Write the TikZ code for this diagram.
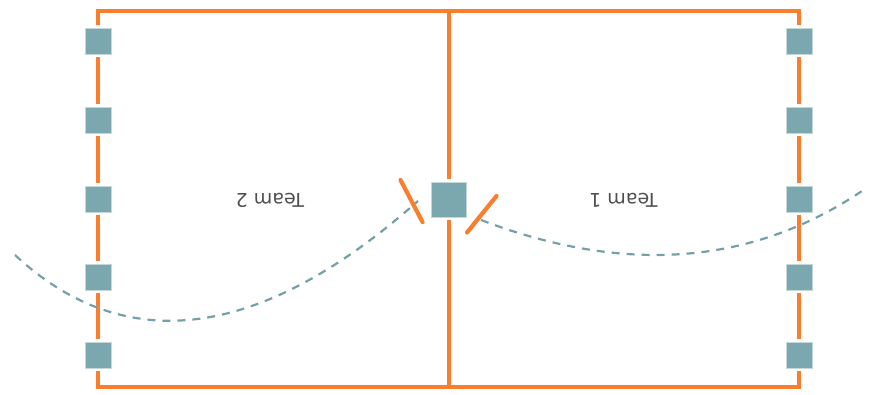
\documentclass[tikz,border=0pt]{standalone}
\usepackage{fontspec}
\setmainfont{DejaVu Sans}
\usetikzlibrary{positioning,calc}
\definecolor{pitchorange}{RGB}{250,126,46}
\definecolor{playerteal}{RGB}{123,167,175}
\definecolor{pathteal}{RGB}{118,160,168}
\definecolor{labelgray}{RGB}{80,80,80}

\begin{document}
\begin{tikzpicture}[
            x=1pt, y=-1pt,
            player/.style={
                draw=playerteal!45,
                line width=0.6pt,
                fill=playerteal,
                minimum size=26pt,
                inner sep=0pt,
                outer sep=3pt
            },
            keeper/.style={
                player,
                minimum size=35pt
            },
            pitchline/.style={
                draw=pitchorange,
                line width=4.2pt
            },
            blocker/.style={
                draw=pitchorange,
                line width=4.2pt,
                line cap=round
            },
            kick/.style={
                draw=pathteal,
                line width=2.2pt,
                dash pattern=on 8pt off 7pt
            },
            teamlabel/.style={
                text=labelgray,
                font=\fontsize{19}{19}\selectfont,
                inner sep=0pt,
                rotate=180
            }
        ]
            \useasboundingbox (0,0) rectangle (872,395);

            % --- Corners of the pitch ---
            \coordinate (tl) at (98,11);
            \coordinate (tm) at (449,11);
            \coordinate (tr) at (799,11);
            \coordinate (bl) at (98,387);
            \coordinate (bm) at (449,387);
            \coordinate (br) at (799,387);

            % --- Players on both touchlines ---
            \foreach \i/\y in {1/41,2/120,3/199,4/277,5/355} {
                \node[player] (l\i) at (98,\y) {};
                \node[player] (r\i) at (799,\y) {};
            }

            % --- Centre player ---
            \node[keeper] (c) at (449,199.5) {};

            % --- Pitch outline ---
            \draw[pitchline] (l1) -- (tl) -- (tr) -- (r1);
            \draw[pitchline] (l5) -- (bl) -- (br) -- (r5);
            \foreach \a/\b in {1/2,2/3,3/4,4/5} {
                \draw[pitchline] (l\a) -- (l\b);
                \draw[pitchline] (r\a) -- (r\b);
            }
            \draw[pitchline] (tm) -- (c);
            \draw[pitchline] (c) -- (bm);

            % --- Blockers beside the centre ---
            \coordinate (lb1) at (400.5,180);
            \coordinate (lb2) at (422.5,222);
            \coordinate (rb1) at (496.5,196);
            \coordinate (rb2) at (467,232.5);
            \draw[blocker] (lb1) -- (lb2);
            \draw[blocker] (rb1) -- (rb2);

            % --- Team labels ---
            \node[teamlabel] (t2) at (270,200.5) {Team 2};
            \node[teamlabel] (t1) at (623.5,200.5) {Team 1};

            % --- Kick paths ---
            \coordinate (k2s) at (15,255);
            \coordinate (k2e) at (418,201);
            \coordinate (k1s) at (481,220);
            \coordinate (k1e) at (862,191);
            \draw[kick] (k2s) .. controls (126,358) and (261,340) .. (k2e);
            \draw[kick] (k1s) .. controls (625,275) and (752,265) .. (k1e);
        \end{tikzpicture}
\end{document}
